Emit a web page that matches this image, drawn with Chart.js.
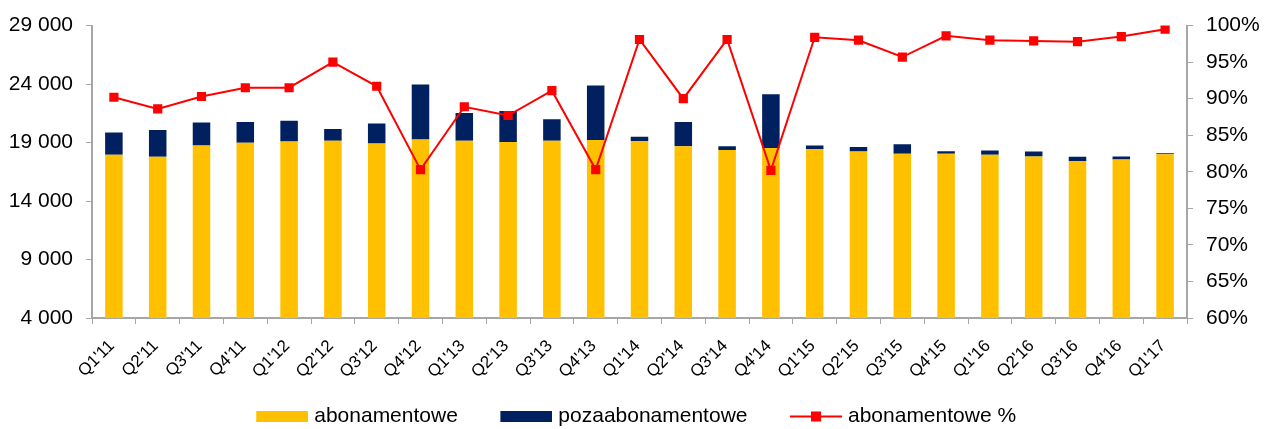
<!DOCTYPE html>
<html>
<head>
<meta charset="utf-8">
<script src="https://cdn.jsdelivr.net/npm/chart.js@4"></script>
<style>
  html, body { margin: 0; padding: 0; background: #fff; }
  canvas { display: block; }
</style>
</head>
<body>
<canvas id="chart" width="1269" height="429"></canvas>
<script>
const quarters = ["Q1'11","Q2'11","Q3'11","Q4'11","Q1'12","Q2'12","Q3'12","Q4'12",
                  "Q1'13","Q2'13","Q3'13","Q4'13","Q1'14","Q2'14","Q3'14","Q4'14",
                  "Q1'15","Q2'15","Q3'15","Q4'15","Q1'16","Q2'16","Q3'16","Q4'16","Q1'17"];

const abonamentowe = [17950, 17790, 18740, 18990, 19100, 19160, 18910, 19270,
                      19160, 19040, 19160, 19210, 19130, 18680, 18370, 18540,
                      18430, 18230, 18040, 18040, 17950, 17810, 17420, 17560, 18010];

const pozaabonamentowe = [1900, 2290, 1980, 1760, 1760, 1000, 1730, 4700,
                          2370, 2660, 1840, 4670, 360, 2070, 310, 4590,
                          310, 390, 810, 220, 370, 420, 370, 250, 80];

const abonamentoweProc = [90.2, 88.6, 90.3, 91.5, 91.5, 95.0, 91.7, 80.3,
                          88.9, 87.7, 91.1, 80.3, 98.1, 90.0, 98.1, 80.2,
                          98.4, 98.0, 95.7, 98.6, 98.0, 97.9, 97.8, 98.5, 99.5];

const YELLOW = '#FFC000';
const NAVY = '#002060';
const RED = '#FF0000';
const AXIS = '#a6a6a6';
const FONT = "'Liberation Sans', Arial, sans-serif";

// legend markers: transparent space on the left gives the gap between items
const MARK_GAP = 37;
function boxImage(colour) {
    const c = document.createElement('canvas');
    c.width = MARK_GAP + 52; c.height = 11;
    const g = c.getContext('2d');
    g.fillStyle = colour;
    g.fillRect(MARK_GAP, 0, 52, 11);
    return c;
}

function lineImage() {
    const c = document.createElement('canvas');
    c.width = MARK_GAP + 52; c.height = 11;
    const g = c.getContext('2d');
    g.strokeStyle = RED;
    g.lineWidth = 2;
    g.beginPath();
    g.moveTo(MARK_GAP, 5.5);
    g.lineTo(MARK_GAP + 52, 5.5);
    g.stroke();
    g.fillStyle = RED;
    g.fillRect(MARK_GAP + 21, 0.5, 10, 10);
    return c;
}

const legendImages = [boxImage(YELLOW), boxImage(NAVY), lineImage()];

function thousands(v) {
    return String(v).replace(/\B(?=(\d{3})+(?!\d))/g, ' ');
}

new Chart(document.getElementById('chart'), {
    type: 'bar',
    data: {
        labels: quarters,
        datasets: [
            {
                label: 'abonamentowe',
                data: abonamentowe,
                backgroundColor: YELLOW,
                stack: 's',
                yAxisID: 'y',
                order: 1,
                categoryPercentage: 1,
                barPercentage: 0.4
            },
            {
                label: 'pozaabonamentowe',
                data: pozaabonamentowe,
                backgroundColor: NAVY,
                stack: 's',
                yAxisID: 'y',
                order: 1,
                categoryPercentage: 1,
                barPercentage: 0.4
            },
            {
                type: 'line',
                label: 'abonamentowe %',
                data: abonamentoweProc,
                borderColor: RED,
                backgroundColor: RED,
                borderWidth: 2,
                pointStyle: 'rect',
                pointRadius: 6.5,
                pointBorderWidth: 0,
                tension: 0,
                yAxisID: 'y1',
                order: 0
            }
        ]
    },
    options: {
        responsive: false,
        animation: false,
        layout: { padding: { top: 21, left: 0, right: 0, bottom: -8 } },
        plugins: {
            tooltip: { enabled: false },
            legend: {
                position: 'bottom',
                labels: {
                    usePointStyle: true,
                    pointStyleWidth: MARK_GAP + 43,
                    padding: 10,
                    color: '#000',
                    font: { family: FONT, size: 21 },
                    sort: (a, b) => a.datasetIndex - b.datasetIndex,
                    generateLabels: (chart) => {
                        const items = Chart.defaults.plugins.legend.labels.generateLabels(chart);
                        items.forEach((item) => {
                            item.pointStyle = legendImages[item.datasetIndex];
                            // trailing blanks keep the centred row where it sits in the original
                            if (item.datasetIndex === 2) item.text += '     ';
                        });
                        return items;
                    }
                }
            }
        },
        scales: {
            x: {
                stacked: true,
                offset: true,
                grid: {
                    offset: true,
                    drawOnChartArea: false,
                    drawTicks: true,
                    tickLength: 6,
                    color: AXIS
                },
                border: { color: AXIS, width: 2 },
                ticks: {
                    color: '#000',
                    font: { family: FONT, size: 17 },
                    minRotation: 45,
                    maxRotation: 45,
                    padding: 12,
                    labelOffset: -2,
                    autoSkip: false
                },
                afterFit: (scale) => { scale.height = 78; }
            },
            y: {
                stacked: true,
                position: 'left',
                min: 4000,
                max: 29000,
                grid: { drawOnChartArea: false, tickLength: 6, color: AXIS },
                border: { color: AXIS, width: 2 },
                ticks: {
                    stepSize: 5000,
                    color: '#000',
                    padding: 13,
                    font: { family: FONT, size: 21 },
                    callback: (v) => thousands(v)
                },
                afterFit: (scale) => { scale.width = 92; }
            },
            y1: {
                position: 'right',
                min: 60,
                max: 100,
                grid: { drawOnChartArea: false, tickLength: 6, color: AXIS },
                border: { color: AXIS, width: 2 },
                ticks: {
                    stepSize: 5,
                    color: '#000',
                    padding: 13,
                    font: { family: FONT, size: 21 },
                    callback: (v) => v + '%'
                },
                afterFit: (scale) => { scale.width = 82; }
            }
        }
    }
});
</script>
</body>
</html>
